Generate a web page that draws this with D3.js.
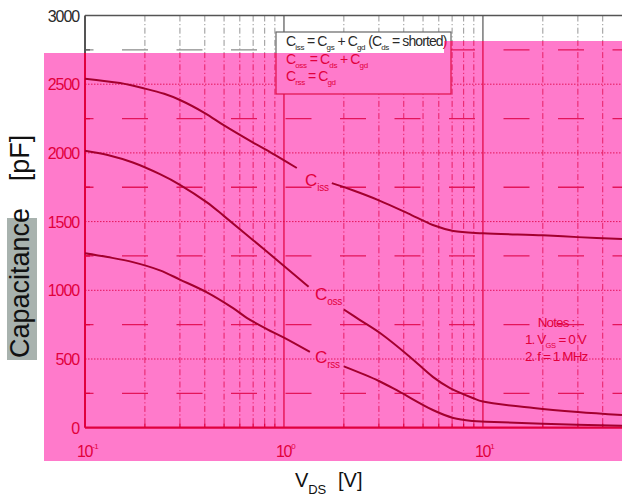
<!DOCTYPE html>
<html>
<head>
<meta charset="utf-8">
<script src="https://cdn.jsdelivr.net/npm/d3@7"></script>
<style>
  body { margin: 0; background: #fff; }
  svg { display: block; font-family: "Liberation Sans", Arial, sans-serif; }
</style>
</head>
<body>
<svg id="chart" width="622" height="499"></svg>
<script>
// tick values
var vds_ticks = [0.1, 1, 10];
var vds_exp = ["-1", "0", "1"];
var vds_minor = [0.2, 0.3, 0.4, 0.5, 0.6, 0.7, 0.8, 0.9, 2, 3, 4, 5, 6, 7, 8, 9, 20, 30, 40];
var pf_ticks = [0, 500, 1000, 1500, 2000, 2500, 3000];
var pf_minor = [250, 750, 1250, 1750, 2250, 2750];

// curves (null = gap where the label sits)
var ciss_vds = [0.1, 0.15, 0.2, 0.25, 0.3, 0.4, 0.5, 0.7, 0.82, 0.9, 1.16, 1.4, 1.74, 2.2, 3.0, 4.2, 5.6, 7.1, 10, 20, 30, 50];
var ciss_pf  = [2540, 2508, 2468, 2430, 2385, 2290, 2200, 2075, 2020, 1985, 1890, null, 1780, 1730, 1655, 1560, 1475, 1432, 1415, 1400, 1387, 1373];
var coss_vds = [0.1, 0.13, 0.174, 0.238, 0.3, 0.41, 0.5, 0.7, 0.99, 1.33, 1.65, 2.0, 2.4, 3.1, 4.3, 5.6, 6.8, 8.9, 10, 18, 30, 50];
var coss_pf  = [2016, 1985, 1930, 1845, 1768, 1640, 1540, 1365, 1183, 1026, null, 860, 785, 680, 515, 370, 290, 216, 190, 143, 114, 92];
var crss_vds = [0.1, 0.13, 0.174, 0.238, 0.3, 0.41, 0.555, 0.65, 0.82, 1.0, 1.35, 1.65, 2.0, 3.0, 3.8, 5.6, 7.1, 8.9, 10.4, 20, 50];
var crss_pf  = [1270, 1242, 1205, 1145, 1078, 985, 870, 800, 718, 655, 551, null, 446, 340, 262, 129, 71, 49, 44, 28, 14];

var series = [
    {vds: ciss_vds, pf: ciss_pf, name: "iss", lx: 305, ly: 186},
    {vds: coss_vds, pf: coss_pf, name: "oss", lx: 315, ly: 300},
    {vds: crss_vds, pf: crss_pf, name: "rss", lx: 315, ly: 363}
];

var svg = d3.select("#chart");
var x = d3.scaleLog().domain([0.1, 50]).range([85, 622]);
var y = d3.scaleLinear().domain([0, 3000]).range([427.7, 15.5]);

var pink_pts = [[44, 53], [444, 53], [444, 41], [622, 41], [622, 461], [44, 461]];
var pink_d = "M" + pink_pts.join("L") + "Z";

var defs = svg.append("defs");
defs.append("clipPath").attr("id", "clip-pink")
    .append("path").attr("d", pink_d);
defs.append("clipPath").attr("id", "clip-white")
    .append("path").attr("d", "M0,0H622V499H0Z" + pink_d).attr("clip-rule", "evenodd");

var gray = {text: "#2a2a2a", frame: "#555", grid: "#8a8a8a", curve: "#222", box: "#666", boxFill: "#fff"};
var red  = {text: "#e2003c", frame: "#e0003e", grid: "#e4155a", curve: "#a3002e", box: "#e0104a", boxFill: "#ff7acb"};

// text with subscripts: parts = [[text, sub], ...]
function sub_text(g, px, py, parts, size, subsize, color, ls) {
    var t = g.append("text").attr("x", px).attr("y", py)
        .attr("font-size", size).attr("fill", color).attr("letter-spacing", ls);
    var low = false;
    parts.forEach(function(p) {
        t.append("tspan").text(p[0]).attr("dy", low ? -subsize / 2 : 0);
        low = false;
        if (p[1]) {
            t.append("tspan").text(p[1]).attr("font-size", subsize)
                .attr("dy", subsize / 2).attr("letter-spacing", -0.3);
            low = true;
        }
    });
    return t;
}

function draw_chart(g, pal) {
    var x0 = x.range()[0], x1 = x.range()[1];
    var y0 = y.range()[0], y1 = y.range()[1];

    // horizontal grid
    g.selectAll(".hmaj").data(pf_ticks.slice(1, -1)).enter().append("line")
        .attr("x1", x0).attr("x2", x1).attr("y1", y).attr("y2", y)
        .attr("stroke", pal.grid).attr("stroke-width", 1).attr("stroke-dasharray", "1.5,1.5");
    g.selectAll(".hmin").data(pf_minor).enter().append("line")
        .attr("x1", x0).attr("x2", x1).attr("y1", y).attr("y2", y)
        .attr("stroke", pal.grid).attr("stroke-width", 1.3)
        .attr("stroke-dasharray", "26,28.5").attr("stroke-dashoffset", 17.5);
    g.selectAll(".ltick").data(pf_minor).enter().append("line")
        .attr("x1", x0).attr("x2", x0 + 5).attr("y1", y).attr("y2", y)
        .attr("stroke", pal.frame).attr("stroke-width", 1.3);

    // vertical grid
    g.selectAll(".vmin").data(vds_minor).enter().append("line")
        .attr("x1", x).attr("x2", x).attr("y1", y1).attr("y2", y0)
        .attr("stroke", pal.grid).attr("stroke-width", 0.9)
        .attr("stroke-dasharray", "6,2.5,1.2,2.5");
    g.selectAll(".btick").data(vds_minor).enter().append("line")
        .attr("x1", x).attr("x2", x).attr("y1", y0).attr("y2", y0 - 4)
        .attr("stroke", pal.frame).attr("stroke-width", 1.3);
    g.selectAll(".vdec").data(vds_ticks.slice(1)).enter().append("line")
        .attr("x1", x).attr("x2", x).attr("y1", y1).attr("y2", y0)
        .attr("stroke", pal.frame).attr("stroke-width", 1.2);

    // frame
    g.append("line").attr("x1", x0).attr("x2", x1).attr("y1", y1).attr("y2", y1)
        .attr("stroke", pal.frame).attr("stroke-width", 1.5);
    g.append("line").attr("x1", x0).attr("x2", x0).attr("y1", y1).attr("y2", y0)
        .attr("stroke", pal.frame).attr("stroke-width", 2);
    g.append("line").attr("x1", x0).attr("x2", x1).attr("y1", y0).attr("y2", y0)
        .attr("stroke", pal.frame).attr("stroke-width", 2.2);

    // y tick labels
    g.selectAll(".ylab").data(pf_ticks).enter().append("text")
        .attr("x", 79).attr("y", function(d) { return y(d) + 6; })
        .attr("text-anchor", "end").attr("font-size", 16).attr("letter-spacing", -1.1)
        .attr("fill", pal.text).text(function(d) { return d; });

    // x tick labels
    vds_ticks.forEach(function(v, i) {
        var t = g.append("text").attr("x", x(v) - 8).attr("y", 457)
            .attr("font-size", 16).attr("letter-spacing", -1.3).attr("fill", pal.text);
        t.append("tspan").text("10");
        t.append("tspan").text(vds_exp[i]).attr("font-size", 8).attr("dy", -8).attr("letter-spacing", -0.5);
    });

    // curves
    var line = d3.line()
        .defined(function(d) { return d[1] !== null; })
        .x(function(d) { return x(d[0]); })
        .y(function(d) { return y(d[1]); })
        .curve(d3.curveCatmullRom.alpha(0.5));
    series.forEach(function(s) {
        var pts = s.vds.map(function(v, i) { return [v, s.pf[i]]; });
        g.append("path").datum(pts).attr("d", line)
            .attr("fill", "none").attr("stroke", pal.curve).attr("stroke-width", 2);
        sub_text(g, s.lx, s.ly, [["C", s.name]], 17, 10, pal.text, 0);
    });

    // legend box
    g.append("rect").attr("x", 276).attr("y", 32).attr("width", 175).attr("height", 62)
        .attr("fill", pal.boxFill).attr("stroke", pal.box).attr("stroke-width", 1.2);
    var leg = [
        [["C", "iss"], [" = C", "gs"], [" + C", "gd"], [" (C", "ds"], [" = shorted)", null]],
        [["C", "oss"], [" = C", "ds"], [" + C", "gd"]],
        [["C", "rss"], [" = C", "gd"]]
    ];
    var leg_y = [46, 64, 81];
    leg.forEach(function(parts, i) {
        sub_text(g, 286, leg_y[i], parts, 14, 8, pal.text, -0.9);
    });

    // notes
    g.append("text").attr("x", 556).attr("y", 327).attr("text-anchor", "middle")
        .attr("font-size", 13.5).attr("letter-spacing", -0.9).attr("fill", pal.text).text("Notes :");
    sub_text(g, 525, 344, [["1. V", "GS"], [" = 0 V", null]], 13.5, 7.5, pal.text, -0.9);
    g.append("text").attr("x", 525).attr("y", 361)
        .attr("font-size", 13.5).attr("letter-spacing", -0.9).attr("fill", pal.text).text("2. f = 1 MHz");

    // axis titles
    g.append("rect").attr("x", 7).attr("y", 218).attr("width", 30).attr("height", 142).attr("fill", "#a8b2ae");
    g.append("text").attr("transform", "translate(29,283) rotate(-90)")
        .attr("text-anchor", "middle").attr("font-size", 27).attr("fill", "#111").text("Capacitance");
    g.append("text").attr("transform", "translate(29,158) rotate(-90)")
        .attr("text-anchor", "middle").attr("font-size", 27).attr("fill", "#111").text("[pF]");
    sub_text(g, 295, 487, [["V", "DS"]], 20, 13, "#111", 0);
    g.append("text").attr("x", 338).attr("y", 487).attr("font-size", 20).attr("fill", "#111").text("[V]");
}

draw_chart(svg.append("g").attr("clip-path", "url(#clip-white)"), gray);
svg.append("path").attr("d", pink_d).attr("fill", "#ff7acb");
draw_chart(svg.append("g").attr("clip-path", "url(#clip-pink)"), red);
</script>
</body>
</html>
